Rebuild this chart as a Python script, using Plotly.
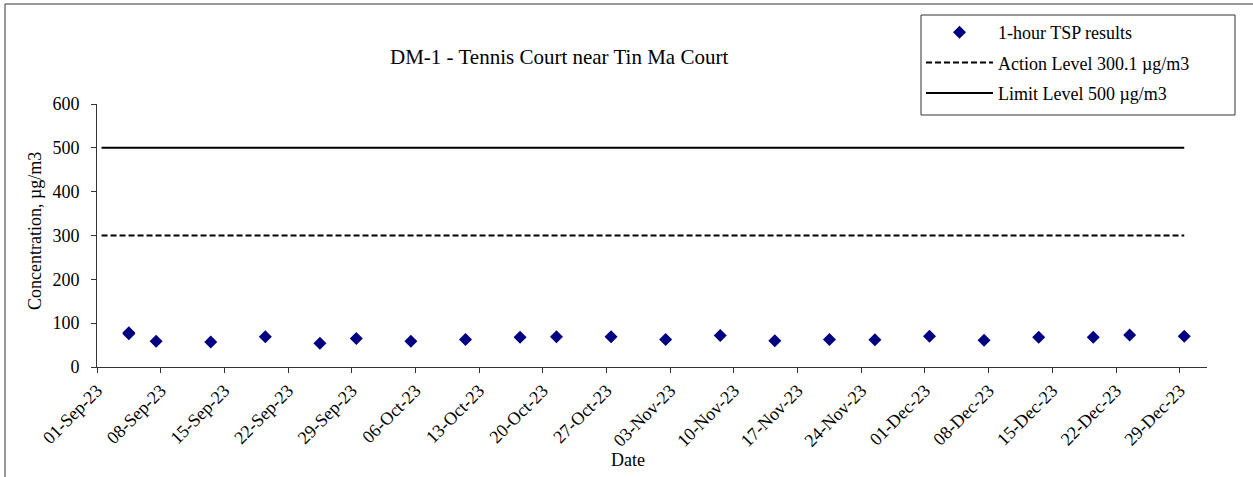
import plotly.graph_objects as go
import pandas as pd

# ---- data ----
sample_dates = ["2023-09-04", "2023-09-04", "2023-09-07", "2023-09-13", "2023-09-19", "2023-09-25",
                "2023-09-29", "2023-10-05", "2023-10-11", "2023-10-17", "2023-10-21",
                "2023-10-27", "2023-11-02", "2023-11-08", "2023-11-14", "2023-11-20",
                "2023-11-25", "2023-12-01", "2023-12-07", "2023-12-13", "2023-12-19",
                "2023-12-23", "2023-12-29"]
tsp_values = [76, 78, 59, 57, 69, 54, 65, 59, 63, 68, 69, 69, 63, 72, 60, 63, 62,
              70, 61, 68, 68, 73, 70]
level_dates = ["2023-09-01", "2023-12-29"]
action_level = [300.1, 300.1]
limit_level = [500, 500]
tick_dates = pd.date_range("2023-09-01", "2023-12-29", freq="7D")
tick_labels = [d.strftime("%d-%b-%y") for d in tick_dates]

title_text = "DM-1 - Tennis Court near Tin Ma Court"
ytitle = "Concentration, µg/m3"
xtitle = "Date"

# Excel date axis centres each day's value in the middle of the day
half_day = pd.Timedelta(hours=12)
xs = pd.to_datetime(sample_dates) + half_day
xl = pd.to_datetime(level_dates) + half_day

FONT = "Liberation Serif, Times New Roman, serif"

fig = go.Figure()
fig.add_trace(go.Scatter(x=xs, y=tsp_values, mode="markers", name="1-hour TSP results",
                         legendgroup="a",
                         marker=dict(symbol="diamond", size=10, color="#000080")))
fig.add_trace(go.Scatter(x=xl, y=action_level, mode="lines", name="Action Level 300.1 µg/m3",
                         legendgroup="b",
                         line=dict(color="black", width=2, dash="6px,3px")))
fig.add_trace(go.Scatter(x=xl, y=limit_level, mode="lines", name="Limit Level 500 µg/m3",
                         legendgroup="c",
                         line=dict(color="black", width=2)))

W, H = 1253, 477
L, R, T, B = 97, 1207, 104, 367
pw, ph = R - L, B - T

def px_x(x):
    return (x - L) / pw

def px_y(y):
    return (B - y) / ph

fig.update_layout(
    width=W, height=H,
    margin=dict(l=L, r=W - R, t=T, b=H - B),
    paper_bgcolor="white", plot_bgcolor="white",
    font=dict(family=FONT, size=18, color="black"),
    showlegend=True,
    legend=dict(x=px_x(921), y=px_y(14), xanchor="left", yanchor="top",
                borderwidth=0, bgcolor="rgba(0,0,0,0)",
                font=dict(family=FONT, size=18), itemwidth=67,
                tracegroupgap=4),
    xaxis=dict(type="date",
               range=[pd.Timestamp("2023-09-01"), pd.Timestamp("2024-01-01")],
               tickvals=tick_dates, ticktext=tick_labels, tickangle=-45,
               ticks="outside", ticklen=5, tickcolor="#333333",
               showline=True, linecolor="#333333", linewidth=1,
               showgrid=False, zeroline=False,
               tickfont=dict(family=FONT, size=18)),
    yaxis=dict(range=[0, 600], tickvals=[0, 100, 200, 300, 400, 500, 600],
               ticks="outside", ticklen=5, tickcolor="#333333",
               showline=True, linecolor="#333333", linewidth=1,
               showgrid=False, zeroline=False, ticklabelstandoff=8,
               tickfont=dict(family=FONT, size=18)),
    annotations=[
        dict(text=title_text, xref="paper", yref="paper", x=px_x(559), y=px_y(57),
             showarrow=False, font=dict(family=FONT, size=21), xanchor="center", yanchor="middle"),
        dict(text=ytitle, xref="paper", yref="paper", x=px_x(35), y=px_y(231),
             showarrow=False, textangle=-90, font=dict(family=FONT, size=18),
             xanchor="center", yanchor="middle"),
        dict(text=xtitle, xref="paper", yref="paper", x=px_x(628), y=px_y(460),
             showarrow=False, font=dict(family=FONT, size=18), xanchor="center", yanchor="middle"),
    ],
    shapes=[
        dict(type="line", xref="paper", yref="paper", x0=px_x(5), x1=px_x(1300),
             y0=px_y(4), y1=px_y(4), line=dict(color="#333333", width=1)),
        dict(type="line", xref="paper", yref="paper", x0=px_x(5), x1=px_x(5),
             y0=px_y(4), y1=px_y(520), line=dict(color="#333333", width=1)),
        # legend frame
        dict(type="rect", xref="paper", yref="paper", x0=px_x(921), x1=px_x(1235),
             y0=px_y(115), y1=px_y(15), line=dict(color="#333333", width=1),
             fillcolor="white", layer="below"),
    ],
)

fig.write_html("out.html", config={"displayModeBar": False},
               post_script="document.body.style.margin='0';document.body.style.overflow='hidden';")
